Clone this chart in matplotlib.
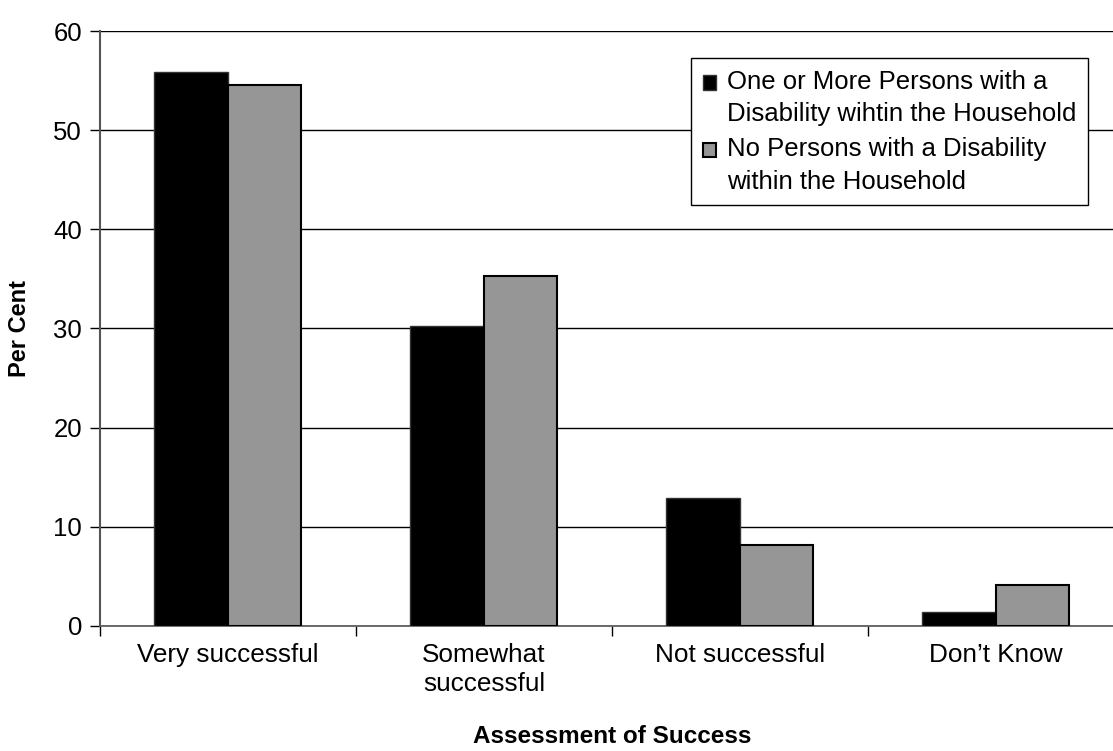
import matplotlib
matplotlib.use('Agg')
import numpy as np
import matplotlib.pyplot as plt
from matplotlib.patches import Rectangle
from matplotlib.container import BarContainer
from matplotlib.legend_handler import HandlerPatch, update_from_first_child

categories = ['Very successful', 'Somewhat\nsuccessful', 'Not successful', 'Don\u2019t Know']
with_disability = [55.9, 30.3, 12.9, 1.4]
without_disability = [54.6, 35.3, 8.2, 4.1]
series_labels = ['One or More Persons with a\nDisability wihtin the Household',
                 'No Persons with a Disability\nwithin the Household']
y_ticks = [0, 10, 20, 30, 40, 50, 60]

plt.rcParams['font.family'] = ['Liberation Sans', 'DejaVu Sans']

fig = plt.figure(figsize=(11.13, 7.51), dpi=100)
# plot area runs a little past the right edge, as in the original export
ax = fig.add_axes([0.0898, 0.1665, 0.920, 0.7922])

x = np.arange(len(categories))
w = 0.287
ax.bar(x - w / 2, with_disability, w, color='black', edgecolor='#333333', linewidth=1,
       label=series_labels[0], zorder=3)
ax.bar(x + w / 2, without_disability, w, color='#969696', edgecolor='black', linewidth=1.5,
       label=series_labels[1], zorder=3)

ax.set_xlim(-0.5, len(categories) - 0.5)
ax.set_ylim(0, 60)
ax.set_yticks(y_ticks)
ax.tick_params(axis='y', labelsize=18.5, length=7, width=1, direction='out', pad=6)

# ticks between categories, labels at centres
ax.set_xticks(np.arange(len(categories) + 1) - 0.5)
ax.set_xticklabels([])
ax.set_xticks(x, minor=True)
ax.set_xticklabels(categories, minor=True, fontsize=18.8, linespacing=1.3)
ax.tick_params(axis='x', which='major', length=7, width=1, direction='out')
ax.tick_params(axis='x', which='minor', length=0, pad=12)

ax.yaxis.grid(True, color='black', linewidth=1)
ax.set_axisbelow(True)
for s in ['top', 'right']:
    ax.spines[s].set_visible(False)
ax.spines['left'].set_color('#555555')
ax.spines['left'].set_linewidth(1.5)
ax.spines['bottom'].set_color('#555555')
ax.spines['bottom'].set_linewidth(1.2)

ax.set_ylabel('Per Cent', fontsize=17, fontweight='bold', labelpad=16)
ax.set_xlabel('Assessment of Success', fontsize=17.5, fontweight='bold', labelpad=21)


def top_square(legend, orig_handle, xdescent, ydescent, width, height, fontsize):
    # put the small square next to the first line of the label
    return Rectangle((-xdescent, -ydescent + fontsize * 0.62), width, height)


leg = ax.legend(loc='upper right', bbox_to_anchor=(1088 / 1113, 1 - 58 / 751),
                bbox_transform=fig.transFigure, fontsize=18.5,
                frameon=True, fancybox=False, edgecolor='black', framealpha=1,
                handlelength=0.5, handleheight=0.5, handletextpad=0.45,
                labelspacing=0.42, borderpad=0.45, borderaxespad=0,
                handler_map={BarContainer: HandlerPatch(patch_func=top_square,
                                                        update_func=update_from_first_child)})
leg.get_frame().set_linewidth(1)
for t in leg.get_texts():
    t.set_linespacing(1.46)

fig.savefig('out.png', dpi=100)
